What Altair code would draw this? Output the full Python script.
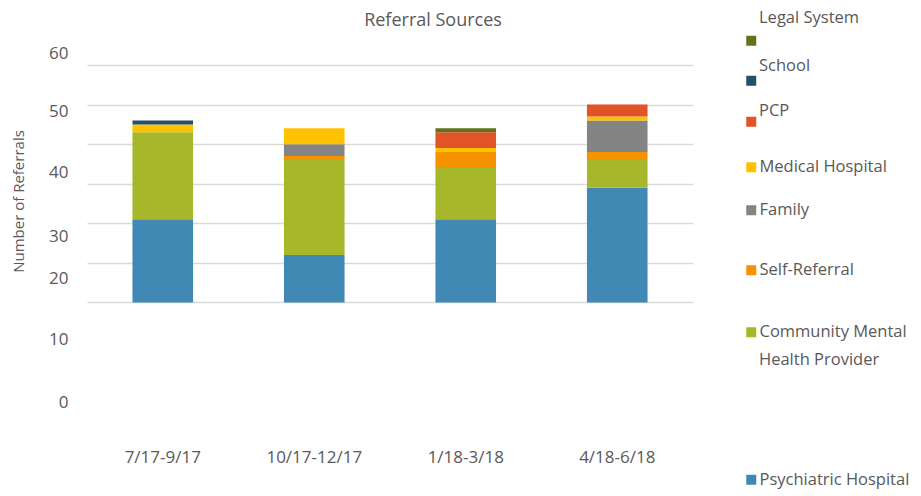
import altair as alt
import pandas as pd

quarters = ["7/17-9/17", "10/17-12/17", "1/18-3/18", "4/18-6/18"]
sources = ["Psychiatric Hospital", "Community Mental Health Provider", "Self-Referral",
           "Family", "Medical Hospital", "PCP", "School", "Legal System"]
psychiatric_hospital = [21, 12, 21, 29]
community_mental_health = [22, 24, 13, 7]
self_referral = [0, 1, 4, 2]
family = [0, 3, 0, 8]
medical_hospital = [2, 4, 1, 1]
pcp = [0, 0, 4, 3]
school = [1, 0, 0, 0]
legal_system = [0, 0, 1, 0]
y_tick_labels = [0, 10, 20, 30, 40, 50, 60]
colors = ["#4189b5", "#a6b82a", "#f59200", "#848484", "#ffc200", "#e05427", "#255069", "#657018"]

series = [psychiatric_hospital, community_mental_health, self_referral, family,
          medical_hospital, pcp, school, legal_system]
rows = []
for i, (s, vals) in enumerate(zip(sources, series)):
    for q, v in zip(quarters, vals):
        rows.append({"quarter": q, "source": s, "order": i, "value": v})
df = pd.DataFrame(rows)

FONT = "Open Sans"
TXT = "#595959"
LFS = 16.5

# legend layout per source:
# (label text, title text, title orient, title padding, legendY in plot coords)
legend_cfg = {
    "Legal System": ("''", "Legal System", "top", 6, -25),
    "School": ("''", "School", "top", -2, 23),
    "PCP": ("''", "PCP", "top", -6, 68),
    "Medical Hospital": ("'Medical Hospital'", None, "top", 0, 124),
    "Family": ("'Family'", None, "top", 0, 167),
    "Self-Referral": ("'Self-Referral'", None, "top", 0, 227),
    "Community Mental Health Provider": ("'Community Mental'", "Health Provider", "bottom", 11, 289),
    "Psychiatric Hospital": ("'Psychiatric Hospital'", None, "top", 0, 436.5),
}

x_enc = alt.X("quarter:N", sort=quarters,
              scale=alt.Scale(paddingInner=0.6, paddingOuter=0.3),
              axis=alt.Axis(title=None, labelAngle=0, ticks=False, domain=False,
                            labelPadding=9, labelFont=FONT, labelFontSize=17,
                            labelColor=TXT, grid=False))

ydom = [-34.74, 67.58]
base = alt.Chart(df).transform_stack(
    stack="value", groupby=["quarter"], as_=["y0", "y1"],
    sort=[alt.SortField("order", order="ascending")]
)

layers = []
for i, s in enumerate(sources):
    expr, ttl, torient, tpad, ly = legend_cfg[s]
    if i == 0:
        yaxis = alt.Axis(orient="right", values=y_tick_labels, labels=False, ticks=False,
                         domain=False, grid=True, gridColor="#d9d9d9", gridWidth=1.6,
                         title=None)
    else:
        yaxis = None
    legend = alt.Legend(orient="none", legendX=672, legendY=ly,
                        title=ttl, titleOrient=torient, titlePadding={"expr": str(tpad)},
                        titleFont=FONT, titleFontSize=LFS, titleColor=TXT,
                        titleFontWeight="normal", titleAnchor="start", titleLimit=0,
                        labelExpr=expr,
                        symbolType="square", symbolSize=100, symbolOffset={"expr": "-16"},
                        symbolStrokeWidth=0, labelFont=FONT,
                        labelFontSize=LFS, labelColor=TXT,
                        labelOffset=0, labelLimit=0, padding=0)
    layer = base.transform_filter(alt.datum.source == s).mark_bar().encode(
        x=x_enc,
        y=alt.Y("y0:Q", scale=alt.Scale(domain=ydom, nice=False, zero=False), axis=yaxis),
        y2="y1:Q",
        color=alt.Color("source:N",
                        scale=alt.Scale(domain=[s], range=[colors[i]]),
                        legend=legend),
    )
    layers.append(layer)

label_df = pd.DataFrame({"tick": y_tick_labels})
label_layer = alt.Chart(label_df).mark_point(opacity=0).encode(
    y=alt.Y("tick:Q", scale=alt.Scale(domain=[-6.343, 63.086], nice=False, zero=False),
            axis=alt.Axis(orient="left", values=y_tick_labels, grid=False, domain=False,
                          ticks=False, labelPadding=19, labelFont=FONT, labelFontSize=17,
                          labelColor=TXT,
                          labelOffset={"condition": [
                              {"test": "datum.value == 40", "value": 3},
                              {"test": "datum.value == 30", "value": 8},
                              {"test": "datum.value == 20", "value": -8},
                              {"test": "datum.value == 10", "value": -5}],
                              "value": 0},
                          title="Number  of Referrals", titleFont=FONT, titleFontSize=15,
                          titleColor=TXT, titleFontWeight="normal", titleX=-69, titleY=166,
                          titleAngle=270, titleBaseline="middle", titleAlign="center"))
)

chart = alt.layer(*layers, label_layer).resolve_scale(
    y="independent", color="independent"
).properties(
    width=606, height=405,
    autosize=alt.AutoSizeParams(type="none"),
    padding={"left": 79, "top": 27, "right": 220, "bottom": 50},
    title=alt.TitleParams("Referral Sources", anchor="middle", frame="group", dx=43,
                          offset={"expr": "-19.5"}, font=FONT, fontSize=18, color=TXT,
                          fontWeight="normal"),
).configure_view(stroke=None)

chart.save("out.html", embed_options={"renderer": "svg", "actions": False})
